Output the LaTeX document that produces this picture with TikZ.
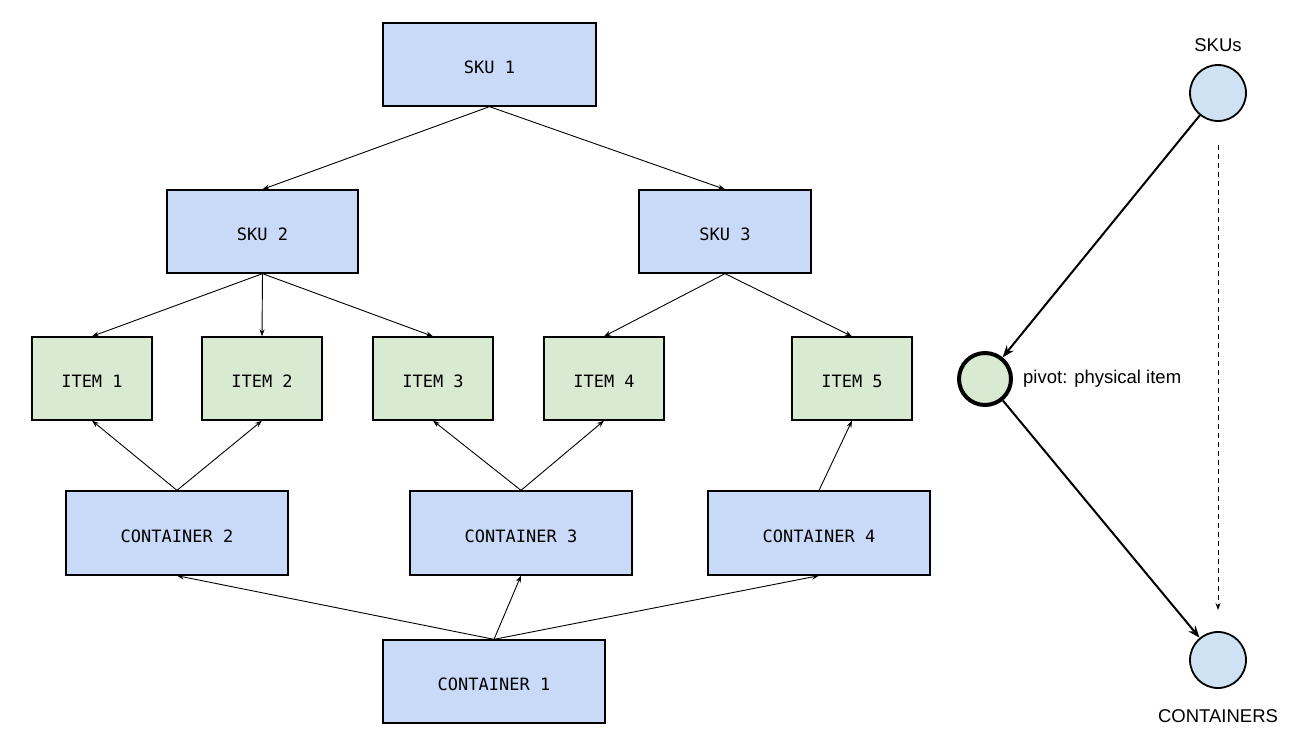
\documentclass[tikz,border=0pt]{standalone}
\usepackage{fontspec}
\setmainfont{Liberation Sans}
\newfontfamily\boxfont{DejaVu Sans Mono}
\usetikzlibrary{arrows.meta}
\definecolor{skublue}{HTML}{C9DAF8}
\definecolor{itemgreen}{HTML}{D9EAD3}
\definecolor{circblue}{HTML}{CFE2F3}
\tikzset{
  sbox/.style={draw=black, line width=1.3pt, fill=skublue, inner sep=0pt, minimum height=83pt, text height=18pt, text depth=0pt, font=\boxfont\fontsize{17}{20}\selectfont},
  ibox/.style={sbox, fill=itemgreen, minimum width=120pt},
  conn/.style={line width=0.9pt, -{Stealth[length=7pt,width=5pt]}},
  bigconn/.style={line width=2pt, -{Stealth[length=12pt,width=9pt]}},
  circ/.style={circle, draw=black, line width=1.8pt, fill=circblue, minimum size=56pt, inner sep=0pt},
  lab/.style={font=\fontsize{18.5}{22}\selectfont, inner sep=0pt}
}
\begin{document}
\begin{tikzpicture}[x=1pt,y=-1pt]
\useasboundingbox (0,0) rectangle (1309,741);
\node[sbox, minimum width=213pt] (sku1) at (489.5,64.5) {SKU 1};
\node[sbox, minimum width=191pt] (sku2) at (262.5,231.5) {SKU 2};
\node[sbox, minimum width=172pt] (sku3) at (725,231.5) {SKU 3};
\node[ibox] (it1) at (92,378.5) {ITEM 1};
\node[ibox] (it2) at (262,378.5) {ITEM 2};
\node[ibox] (it3) at (433,378.5) {ITEM 3};
\node[ibox] (it4) at (604,378.5) {ITEM 4};
\node[ibox] (it5) at (852,378.5) {ITEM 5};
\node[sbox, minimum width=222pt, minimum height=84pt] (c2) at (177,533) {CONTAINER 2};
\node[sbox, minimum width=222pt, minimum height=84pt] (c3) at (521,533) {CONTAINER 3};
\node[sbox, minimum width=222pt, minimum height=84pt] (c4) at (819,533) {CONTAINER 4};
\node[sbox, minimum width=222pt] (c1) at (494,681.5) {CONTAINER 1};
% SKU tree
\draw[conn] (sku1.south) -- (sku2.north);
\draw[conn] (sku1.south) -- (sku3.north);
\draw[conn] (sku2.south) -- (it1.north);
\draw[conn] (sku2.south) -- (it2.north);
\draw[conn] (sku2.south) -- (it3.north);
\draw[conn] (sku3.south) -- (it4.north);
\draw[conn] (sku3.south) -- (it5.north);
% containers
\draw[conn] (c2.north) -- (it1.south);
\draw[conn] (c2.north) -- (it2.south);
\draw[conn] (c3.north) -- (it3.south);
\draw[conn] (c3.north) -- (it4.south);
\draw[conn] (c4.north) -- (it5.south);
\draw[conn] (c1.north) -- (c2.south);
\draw[conn] (c1.north) -- (c3.south);
\draw[conn] (c1.north) -- (c4.south);
% right schema
\node[circ] (skus) at (1218,93) {};
\node[circ, fill=itemgreen, line width=4pt, minimum size=52pt] (pivot) at (985,379) {};
\node[circ] (conts) at (1218,660) {};
\node[lab] (skuslab) at (1218,45) {SKUs};
\node[lab, anchor=west] (pivlab) at (1023,379) {pivot: physical item};
\node[lab] (contslab) at (1218,716) {CONTAINERS};
\draw[bigconn] (skus) -- (pivot);
\draw[bigconn] (pivot) -- (conts);
\coordinate (dtop) at (1218,145);
\coordinate (dbot) at (1218,610);
\draw[line width=0.9pt, dashed, dash pattern=on 5pt off 4pt, -{Stealth[length=7pt,width=5pt]}] (dtop) -- (dbot);
\end{tikzpicture}
\end{document}
